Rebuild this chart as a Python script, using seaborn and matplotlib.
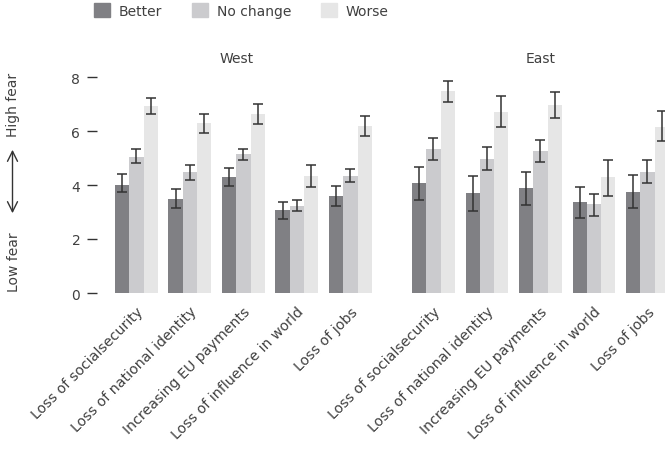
import matplotlib
matplotlib.use("Agg")
import matplotlib.pyplot as plt
import numpy as np
import pandas as pd
import seaborn as sns

categories = ["Loss of socialsecurity", "Loss of national identity",
              "Increasing EU payments", "Loss of influence in world",
              "Loss of jobs"]
changes = ["Better", "No change", "Worse"]
regions = ["West", "East"]

# mean fear score per change level, category order as above
west_better = [4.00, 3.48, 4.30, 3.08, 3.60]
west_nochange = [5.05, 4.50, 5.15, 3.22, 4.34]
west_worse = [6.93, 6.30, 6.64, 4.34, 6.19]
east_better = [4.07, 3.70, 3.89, 3.37, 3.74]
east_nochange = [5.33, 4.98, 5.27, 3.28, 4.50]
east_worse = [7.49, 6.72, 6.98, 4.30, 6.16]

# confidence interval bounds
west_better_lo = [3.73, 3.14, 3.98, 2.74, 3.24]
west_better_hi = [4.40, 3.84, 4.62, 3.36, 3.96]
west_nochange_lo = [4.81, 4.20, 4.92, 3.02, 4.10]
west_nochange_hi = [5.32, 4.74, 5.35, 3.46, 4.59]
west_worse_lo = [6.62, 5.92, 6.27, 3.93, 5.80]
west_worse_hi = [7.22, 6.64, 7.00, 4.74, 6.54]
east_better_lo = [3.45, 3.03, 3.25, 2.76, 3.14]
east_better_hi = [4.66, 4.35, 4.50, 3.92, 4.38]
east_nochange_lo = [4.94, 4.54, 4.87, 2.87, 4.06]
east_nochange_hi = [5.75, 5.39, 5.66, 3.66, 4.93]
east_worse_lo = [7.08, 6.14, 6.49, 3.61, 5.64]
east_worse_hi = [7.87, 7.29, 7.44, 4.91, 6.74]

values = {
    "West": [west_better, west_nochange, west_worse],
    "East": [east_better, east_nochange, east_worse],
}
lows = {
    "West": [west_better_lo, west_nochange_lo, west_worse_lo],
    "East": [east_better_lo, east_nochange_lo, east_worse_lo],
}
highs = {
    "West": [west_better_hi, west_nochange_hi, west_worse_hi],
    "East": [east_better_hi, east_nochange_hi, east_worse_hi],
}

palette = {"Better": "#808084", "No change": "#cbcbce", "Worse": "#e6e6e6"}
text_color = "#404040"

sns.set_style("white")
plt.rcParams["font.family"] = ["DejaVu Sans"]
plt.rcParams["text.color"] = text_color
plt.rcParams["xtick.color"] = text_color
plt.rcParams["ytick.color"] = text_color

W, H = 665, 452
fig = plt.figure(figsize=(W / 100, H / 100), dpi=100)

y0_px = 294        # pixel row of value 0
unit_px = 27.0     # pixels per unit
ymax = 8.3
pitch = 53.5
bottom = (H - y0_px) / H
height = ymax * unit_px / H

# left panel starts a bit further left so the ticks sit off the bars
ax_w = fig.add_axes([97 / W, bottom, (4.5 + 0.736) * pitch / W, height])
ax_e = fig.add_axes([(433.4 - 0.5 * pitch) / W, bottom, 5 * pitch / W, height])

for ax, region in zip([ax_w, ax_e], regions):
    rows = []
    for c_i, change in enumerate(changes):
        for k, cat in enumerate(categories):
            rows.append({"category": cat, "change": change,
                         "value": values[region][c_i][k]})
    df = pd.DataFrame(rows)
    sns.barplot(data=df, x="category", y="value", hue="change",
                hue_order=changes, order=categories, palette=palette,
                errorbar=None, saturation=1, width=0.8, gap=0,
                legend=False, linewidth=0, ax=ax)

    # error bars at the bar centres
    bar_conts = list(ax.containers)
    for c_i, cont in enumerate(bar_conts):
        xs = [b.get_x() + b.get_width() / 2 for b in cont]
        mean = np.array(values[region][c_i])
        lo = np.array(lows[region][c_i])
        hi = np.array(highs[region][c_i])
        ax.errorbar(xs, mean, yerr=[mean - lo, hi - mean], fmt="none",
                    ecolor="#333333", elinewidth=1.1, capsize=3.5,
                    capthick=1.1, zorder=5)

    ax.set_ylim(0, ymax)
    ax.set_xlabel("")
    ax.set_ylabel("")
    ax.set_title(region, fontsize=10, color=text_color, pad=5)
    ax.set_xticks(range(len(categories)))
    ax.set_xticklabels(categories, rotation=45, ha="right",
                       rotation_mode="anchor", fontsize=10.2)
    ax.tick_params(axis="x", length=0, pad=8)
    sns.despine(ax=ax, left=True, bottom=True)

ax_w.set_xlim(-0.736, 4.5)
ax_e.set_xlim(-0.5, 4.5)
ax_w.set_yticks([0, 2, 4, 6, 8])
ax_w.tick_params(axis="y", length=7, width=1, color="#333333",
                 labelsize=10, pad=5, left=True)
ax_e.set_yticks([])

# y axis description with double arrow
fig.text(13.5 / W, 1 - 105 / H, "High fear", rotation=90, ha="center",
         va="center", fontsize=10)
fig.text(13.5 / W, 1 - 262 / H, "Low fear", rotation=90, ha="center",
         va="center", fontsize=10)
ax_w.annotate("", xy=(12.5 / W, 1 - 148 / H), xytext=(12.5 / W, 1 - 217 / H),
              xycoords="figure fraction", textcoords="figure fraction",
              arrowprops=dict(arrowstyle="<->", color="#333333", lw=1,
                              mutation_scale=18))

handles = [plt.Rectangle((0, 0), 1, 1, color=palette[c]) for c in changes]
fig.legend(handles, changes, loc="upper left", ncol=3, frameon=False,
           bbox_to_anchor=(94 / W, 1 - 4 / H), borderpad=0, borderaxespad=0,
           fontsize=10, handlelength=1.15, handleheight=1.15,
           handletextpad=0.6, columnspacing=2.2)

fig.savefig("out.png", dpi=100)
